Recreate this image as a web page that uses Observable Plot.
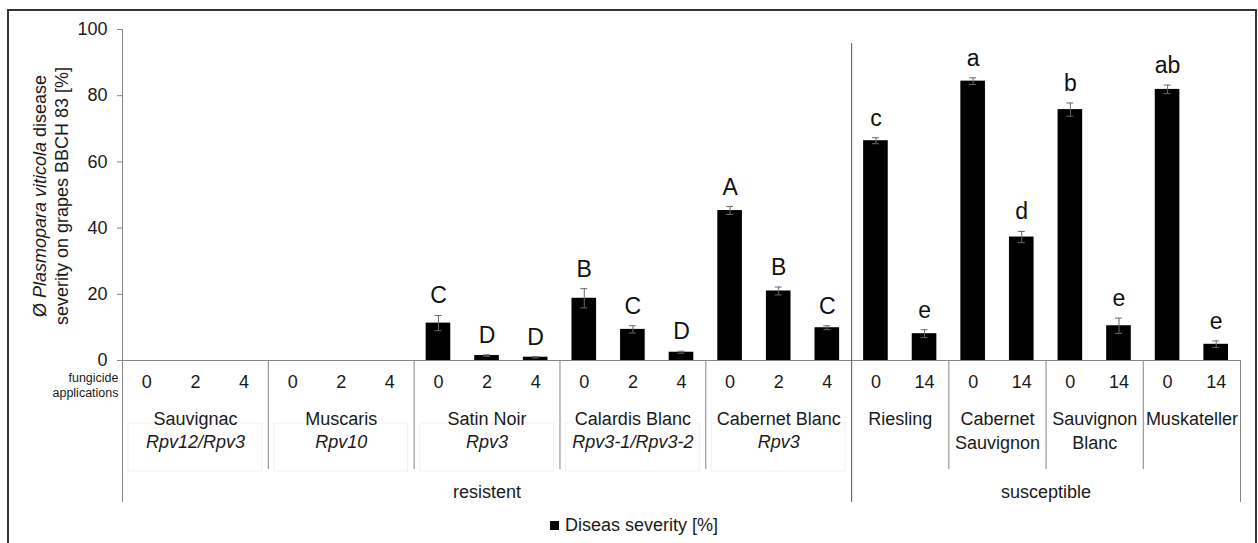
<!DOCTYPE html>
<html><head><meta charset="utf-8">
<script src="https://cdn.jsdelivr.net/npm/d3@7"></script>
<script src="https://cdn.jsdelivr.net/npm/@observablehq/plot@0.6"></script>
<style>
html,body{margin:0;padding:0;background:#fff;}
body{width:1258px;height:543px;position:relative;overflow:hidden;font-family:"Liberation Sans",Arial,sans-serif;}
#chart{position:absolute;left:0;top:0;}
#frame{position:absolute;left:7px;top:9px;width:1250px;height:560px;border:2px solid #333;box-sizing:border-box;pointer-events:none;}
#legend{position:absolute;left:550px;top:512px;font-size:18px;color:#1a1a1a;display:flex;align-items:center;height:26px;white-space:nowrap;}
#legend .sw{display:inline-block;width:9px;height:9px;background:#000;margin-right:6px;}
</style></head><body>
<div id="chart"></div>
<div id="legend"><span class="sw"></span><span>Diseas severity [%]</span></div>
<div id="frame"></div>
<script>
// ---- data ----
const cultivars = ["Sauvignac","Muscaris","Satin Noir","Calardis Blanc","Cabernet Blanc","Riesling","Cabernet\nSauvignon","Sauvignon\nBlanc","Muskateller"];
const resistanceGenes = ["Rpv12/Rpv3","Rpv10","Rpv3","Rpv3-1/Rpv3-2","Rpv3","","","",""];
const susceptibility = ["resistent","resistent","resistent","resistent","resistent","susceptible","susceptible","susceptible","susceptible"];
const applications = [[0,2,4],[0,2,4],[0,2,4],[0,2,4],[0,2,4],[0,14],[0,14],[0,14],[0,14]];
const severity = [[0,0,0],[0,0,0],[11.3,1.5,1.0],[18.8,9.4,2.5],[45.3,21.0,9.9],[66.4,8.1],[84.4,37.3],[75.8,10.5],[81.9,4.9]];
const severityError = [[0,0,0],[0,0,0],[2.3,0.2,0.2],[2.9,1.1,0.3],[1.2,1.2,0.6],[0.9,1.2],[1.0,1.7],[2.0,2.3],[1.3,1.0]];
const letters = [["","",""],["","",""],["C","D","D"],["B","C","D"],["A","B","C"],["c","e"],["a","d"],["b","e"],["ab","e"]];
const yTicks = [0,20,40,60,80,100];
const legendLabel = "Diseas severity [%]";

// ---- derived tables ----
const bars = [];
const groups = [];
let slot = 0;
cultivars.forEach((name, g) => {
  const start = slot;
  applications[g].forEach((a, k) => {
    bars.push({i: slot, app: String(a), value: severity[g][k], err: severityError[g][k], letter: letters[g][k]});
    slot++;
  });
  groups.push({name, gene: resistanceGenes[g], cls: susceptibility[g], start, end: slot});
});
const nSlots = slot;
const classes = [];
groups.forEach(g => {
  const last = classes[classes.length - 1];
  if (last && last.name === g.cls) last.end = g.end;
  else classes.push({name: g.cls, start: g.start, end: g.end});
});
const innerSeps = groups.filter(g => !classes.some(c => c.start === g.start)).map(g => g.start);
const classEdges = [...new Set(classes.flatMap(c => [c.start, c.end]))];

// ---- layout ----
const W = 1258, H = 510, mTop = 29, base = 360, mLeft = 122, mRight = 18;
const perPx = 100 / (base - mTop);
const below = px => -px * perPx;
const step = (W - mLeft - mRight) / nSlots;
const cap = 3.5 / step;
const gray = "#858585";

const plot = Plot.plot({
  width: W, height: H,
  marginTop: mTop, marginBottom: H - base, marginLeft: mLeft, marginRight: mRight,
  style: {fontFamily: "'Liberation Sans', Arial, sans-serif", fontSize: "18px", color: "#1a1a1a", background: "transparent"},
  x: {type: "linear", domain: [0, nSlots], axis: null},
  y: {domain: [0, 100], axis: null},
  marks: [
    Plot.axisY({ticks: yTicks, tickSize: 5, tickPadding: 10, stroke: gray, fill: "#1a1a1a", fontSize: 18, label: null}),
    // gene boxes (faint)
    Plot.rect(groups.filter(g => g.gene), {x1: "start", x2: "end", y1: below(63), y2: below(111), fill: "none", stroke: "#f1f1f1", insetLeft: 6, insetRight: 6}),
    // bars
    Plot.rectY(bars, {x1: "i", x2: d => d.i + 1, y: "value", fill: "#000", insetLeft: 12, insetRight: 12}),
    // error bars
    Plot.ruleX(bars.filter(d => d.err > 0), {x: d => d.i + 0.5, y1: d => d.value - d.err, y2: d => d.value + d.err, stroke: "#6a6a6a", strokeWidth: 1}),
    Plot.ruleY(bars.filter(d => d.err > 0), {y: d => d.value + d.err, x1: d => d.i + 0.5 - cap, x2: d => d.i + 0.5 + cap, stroke: "#6a6a6a", strokeWidth: 1}),
    Plot.ruleY(bars.filter(d => d.err > 0), {y: d => d.value - d.err, x1: d => d.i + 0.5 - cap, x2: d => d.i + 0.5 + cap, stroke: "#6a6a6a", strokeWidth: 1}),
    // significance letters
    Plot.text(bars.filter(d => d.letter), {x: d => d.i + 0.5, y: d => d.value + d.err, text: "letter", dy: -12, lineAnchor: "bottom", fontSize: 23, fill: "#111"}),
    // axis frame lines
    Plot.ruleY([0], {x1: 0, x2: nSlots, stroke: gray}),
    Plot.ruleX([0], {y1: below(142), y2: 100, stroke: gray}),
    Plot.ruleX(classEdges.filter(e => e > 0 && e < nSlots), {y1: below(142), y2: (base - 43) * perPx, stroke: "#555"}),
    Plot.ruleX([nSlots], {y1: below(142), y2: 0, stroke: gray}),
    Plot.ruleX(innerSeps, {y1: below(109), y2: 0, stroke: gray}),
    // category labels
    Plot.text(bars, {x: d => d.i + 0.5, y: 0, text: "app", dy: 22, fontSize: 18}),
    Plot.text(groups, {x: d => (d.start + d.end) / 2, y: 0, text: "name", lineAnchor: "top", dy: 48, lineHeight: 1.33, fontSize: 18}),
    Plot.text(groups.filter(g => g.gene), {x: d => (d.start + d.end) / 2, y: 0, text: "gene", dy: 82, fontStyle: "italic", fontSize: 18}),
    Plot.text(classes, {x: d => (d.start + d.end) / 2, y: 0, text: "name", dy: 132, fontSize: 18}),
    Plot.text(["fungicide\napplications"], {x: 0, y: 0, text: d => d, dx: -4, textAnchor: "end", lineAnchor: "top", dy: 10, lineHeight: 1.25, fontSize: 12.5})
  ]
});
document.getElementById("chart").appendChild(plot);

// rotated y-axis title with italic species name
const svg = d3.select(plot);
const t1 = svg.append("text").attr("transform", "translate(40,196) rotate(-90)").attr("text-anchor", "middle").attr("dy", "0.35em").attr("font-size", 18).attr("fill", "#1a1a1a");
t1.append("tspan").text("Ø ");
t1.append("tspan").attr("font-style", "italic").text("Plasmopara viticola");
t1.append("tspan").text(" disease");
svg.append("text").attr("transform", "translate(62,196) rotate(-90)").attr("text-anchor", "middle").attr("dy", "0.35em").attr("font-size", 18).attr("fill", "#1a1a1a").text("severity on grapes BBCH 83 [%]");
</script></body></html>
